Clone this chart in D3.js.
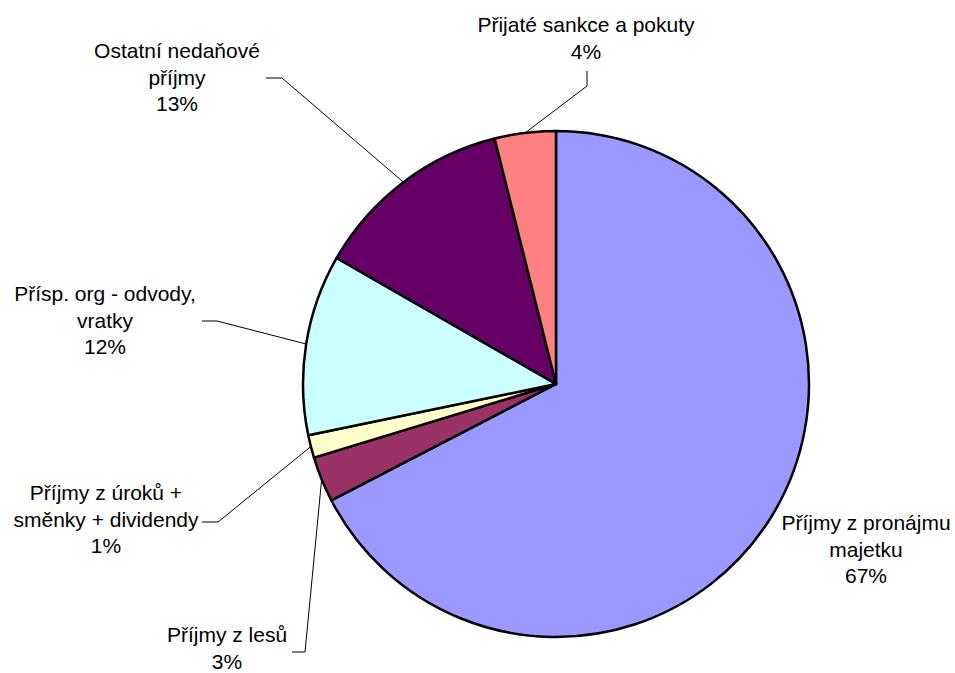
<!DOCTYPE html>
<html>
<head>
<meta charset="utf-8">
<script src="https://cdn.jsdelivr.net/npm/d3@7"></script>
<style>
  body { margin: 0; background: #fff; }
  text { font-family: "Liberation Sans", Arial, sans-serif; font-size: 21px; fill: #000; }
</style>
</head>
<body>
<div id="chart"></div>
<script>
// chart data
var categories = [
  "Příjmy z pronájmu majetku",
  "Příjmy z lesů",
  "Příjmy z úroků + směnky + dividendy",
  "Přísp. org - odvody, vratky",
  "Ostatní nedaňové příjmy",
  "Přijaté sankce a pokuty"
];
// how each category label is broken into lines
var labelLines = [
  ["Příjmy z pronájmu", "majetku"],
  ["Příjmy z lesů"],
  ["Příjmy z úroků +", "směnky + dividendy"],
  ["Přísp. org - odvody,", "vratky"],
  ["Ostatní nedaňové", "příjmy"],
  ["Přijaté sankce a pokuty"]
];
var values = [67.4, 2.9, 1.45, 11.55, 12.8, 3.9];
var colors = ["#9999FF", "#993366", "#FFFFCC", "#CCFFFF", "#660066", "#FF8080"];

// layout of the labels (text centre + first baseline) and leader line bends
var labelLayout = [
  { x: 866, y: 530, leader: null },
  { x: 227, y: 642, leader: [[305, 652], [292, 652]] },
  { x: 106, y: 500, leader: [[218, 522], [202, 522]] },
  { x: 105, y: 301, leader: [[217, 321], [202, 321]] },
  { x: 177, y: 58,  leader: [[282, 78], [266, 78]] },
  { x: 586, y: 32,  leader: [[587, 86], [587, 71]] }
];

const width = 955;
const height = 673;
const center = { x: 556, y: 384 };
const radius = 253;
const lineHeight = 26.5;

var svg = d3.select("#chart")
  .append("svg")
  .attr("width", width)
  .attr("height", height);

var total = d3.sum(values);
var pie = d3.pie().sort(null).value(function(d) { return d; });
var arcs = pie(values);
var arc = d3.arc().innerRadius(0).outerRadius(radius);

// slices
svg.append("g")
  .attr("transform", "translate(" + center.x + "," + center.y + ")")
  .selectAll("path")
  .data(arcs)
  .enter()
  .append("path")
  .attr("d", arc)
  .attr("fill", function(d, i) { return colors[i]; })
  .attr("stroke", "#000")
  .attr("stroke-width", 2.5)
  .attr("stroke-linejoin", "round");

// leader lines, starting at the middle of each slice's rim
svg.append("g")
  .selectAll("path")
  .data(arcs.filter(function(d, i) { return labelLayout[i].leader; }))
  .enter()
  .append("path")
  .attr("d", function(d) {
    var mid = (d.startAngle + d.endAngle) / 2;
    var start = [center.x + radius * Math.sin(mid), center.y - radius * Math.cos(mid)];
    return d3.line()([start].concat(labelLayout[d.index].leader));
  })
  .attr("fill", "none")
  .attr("stroke", "#000")
  .attr("stroke-width", 1);

// labels
var labels = svg.append("g")
  .selectAll("text")
  .data(arcs)
  .enter()
  .append("text")
  .attr("text-anchor", "middle");

labels.each(function(d, i) {
  var lines = labelLines[i].concat([Math.round(d.value / total * 100) + "%"]);
  d3.select(this)
    .selectAll("tspan")
    .data(lines)
    .enter()
    .append("tspan")
    .attr("x", labelLayout[i].x)
    .attr("y", function(l, j) { return labelLayout[i].y + j * lineHeight; })
    .text(function(l) { return l; });
});
</script>
</body>
</html>
